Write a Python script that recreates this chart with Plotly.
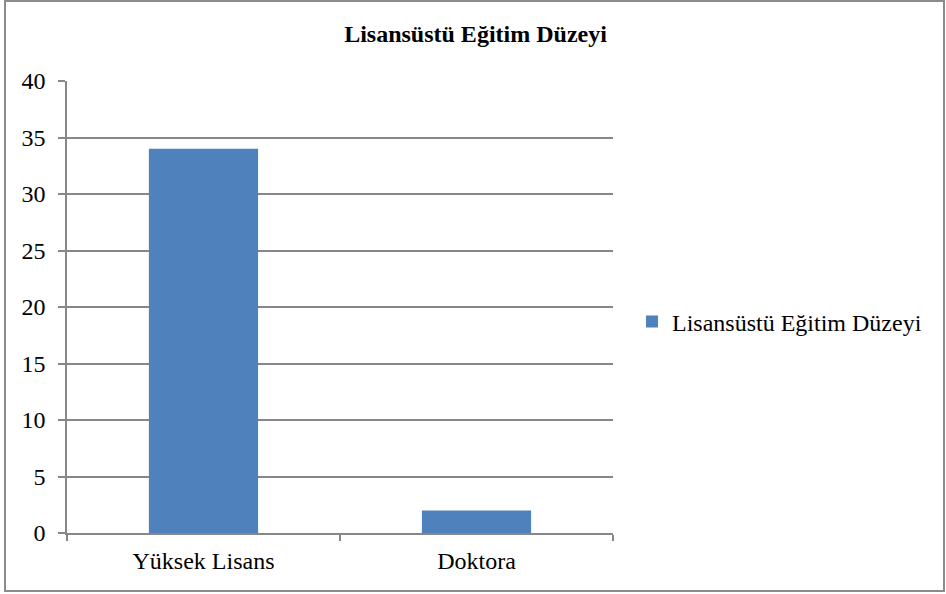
import plotly.graph_objects as go

# Data
categories = ["Yüksek Lisans", "Doktora"]
values = [34, 2]
series_name = "Lisansüstü Eğitim Düzeyi"
chart_title = "Lisansüstü Eğitim Düzeyi"
y_ticks = [0, 5, 10, 15, 20, 25, 30, 35, 40]

W, H = 946, 594
L, R, T, B = 67, 333, 81, 61
plot_w = W - L - R
plot_h = H - T - B


def px_x(px):
    return (px - L) / plot_w


def px_y(py):
    return (H - B - py) / plot_h


FONT = "Times New Roman, Liberation Serif, DejaVu Serif"
GRID = "#878787"
FS = 24

fig = go.Figure()
fig.add_trace(go.Bar(
    x=categories,
    y=values,
    name=series_name,
    width=0.4,
    marker=dict(color="#4F81BD", line=dict(width=0)),
    showlegend=True,
))

fig.update_layout(
    width=W,
    height=H,
    margin=dict(l=L, r=R, t=T, b=B, autoexpand=False),
    paper_bgcolor="white",
    plot_bgcolor="white",
    font=dict(family=FONT, size=FS, color="black"),
    title=dict(
        text="<b>" + chart_title + "</b>",
        font=dict(family=FONT, size=FS, color="black"),
        x=475.5 / W,
        xanchor="center",
        xref="container",
        y=1 - 34 / H,
        yanchor="middle",
        yref="container",
    ),
    legend=dict(
        x=px_x(632),
        xanchor="left",
        y=px_y(322),
        yanchor="middle",
        font=dict(family=FONT, size=FS, color="black"),
        bgcolor="rgba(0,0,0,0)",
        itemwidth=30,
    ),
    xaxis=dict(
        type="category",
        showgrid=False,
        showline=True,
        linecolor=GRID,
        linewidth=1.5,
        ticks="outside",
        tickson="boundaries",
        ticklen=6,
        tickcolor=GRID,
        tickwidth=1.5,
        tickfont=dict(family=FONT, size=FS, color="black"),
        ticklabelstandoff=5,
    ),
    yaxis=dict(
        range=[0, 40],
        tickvals=y_ticks,
        showgrid=True,
        gridcolor=GRID,
        gridwidth=1.5,
        showline=True,
        linecolor=GRID,
        linewidth=1.5,
        ticks="outside",
        ticklen=7,
        tickcolor=GRID,
        tickwidth=1.5,
        tickfont=dict(family=FONT, size=FS, color="black"),
        ticklabelstandoff=8,
        zeroline=False,
    ),
    bargap=0.6,
    shapes=[
        dict(
            type="rect",
            xref="paper",
            yref="paper",
            x0=px_x(5),
            x1=px_x(944),
            y0=px_y(591),
            y1=px_y(1),
            line=dict(color="#8C8C8C", width=2),
            fillcolor="rgba(0,0,0,0)",
            layer="below",
        )
    ],
)

fig.write_html("out.html")
